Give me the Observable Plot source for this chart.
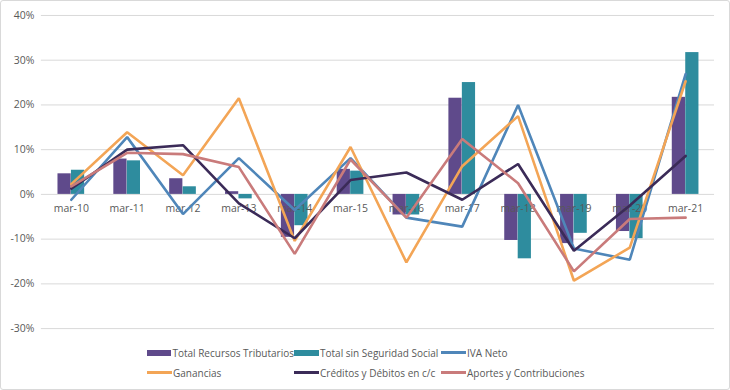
<!DOCTYPE html>
<html><head><meta charset="utf-8">
<script src="https://cdn.jsdelivr.net/npm/d3@7"></script>
<script src="https://cdn.jsdelivr.net/npm/@observablehq/plot@0.6"></script>
<style>
body{margin:0;background:#fff;font-family:"Open Sans",sans-serif;}
#frame{position:absolute;left:0;top:0;width:730px;height:390px;box-sizing:border-box;border:1px solid #d9d9d9;border-radius:3px;overflow:hidden;}
#chart{position:absolute;left:0;top:0;}
#legend{position:absolute;left:146px;top:344px;display:grid;grid-template-columns:147px 147px 160px;row-gap:5px;font-size:10px;color:#595959;}
.item{display:flex;align-items:center;white-space:nowrap;height:15px;}
.sw{display:inline-block;width:25px;margin-right:1px;}
</style></head><body>
<div id="frame"><div id="chart"></div><div id="legend"></div></div>
<script>
const categories = ["mar-10","mar-11","mar-12","mar-13","mar-14","mar-15","mar-16","mar-17","mar-18","mar-19","mar-20","mar-21"];
const totalRecursos = [4.6, 7.9, 3.5, 0.6, -9.6, 5.6, -4.6, 21.5, -10.3, -11.0, -8.3, 21.7];
const totalSinSS = [5.4, 7.5, 1.7, -1.0, -7.0, 5.2, -4.6, 25.0, -14.4, -8.7, -9.9, 31.7];
const ivaNeto = [-1.2, 12.8, -4.4, 8.1, -3.5, 8.1, -5.2, -7.2, 20.0, -12.1, -14.6, 26.9];
const ganancias = [2.3, 13.9, 4.3, 21.5, -10.4, 10.6, -15.2, 6.3, 17.5, -19.3, -11.9, 25.3];
const creditos = [1.3, 10.0, 11.0, -2.0, -9.8, 3.2, 4.9, -1.2, 6.8, -12.6, -2.5, 8.6];
const aportes = [1.8, 9.3, 9.0, 6.1, -13.3, 7.8, -5.2, 12.4, 2.5, -17.2, -5.5, -5.2];
const yTicks = [-30, -20, -10, 0, 10, 20, 30, 40];

const barSeries = [
  {name: "Total Recursos Tributarios", values: totalRecursos, color: "#5f4a8b"},
  {name: "Total sin Seguridad Social", values: totalSinSS, color: "#2e8c9e"}
];
const lineSeries = [
  {name: "IVA Neto", values: ivaNeto, color: "#4f86b9"},
  {name: "Ganancias", values: ganancias, color: "#f3a556"},
  {name: "Créditos y Débitos en c/c", values: creditos, color: "#3b2b58"},
  {name: "Aportes y Contribuciones", values: aportes, color: "#c97b7b"}
];

const W = 730, H = 340, mL = 40, mR = 15;
const bw = (W - mL - mR) / categories.length;
const barW = 13.5;

const marks = [
  Plot.gridY(yTicks, {stroke: "#d9d9d9", strokeOpacity: 1, strokeWidth: 1}),
  Plot.axisY(yTicks, {tickSize: 0, tickPadding: 7, tickFormat: d => d + "%", fontSize: 10.5, fill: "#595959", label: null})
];
barSeries.forEach((s, i) => {
  const data = categories.map((c, j) => ({c, v: s.values[j]}));
  marks.push(Plot.barY(data, {
    x: "c", y: "v", fill: s.color,
    insetLeft: i === 0 ? bw / 2 - barW : bw / 2,
    insetRight: i === 0 ? bw / 2 : bw / 2 - barW
  }));
});
marks.push(Plot.text(categories, {x: d => d, y: () => 0, dy: 14, text: d => d, fill: "#595959", fontSize: 10.5}));
lineSeries.forEach(s => {
  const data = categories.map((c, j) => ({c, v: s.values[j]}));
  marks.push(Plot.line(data, {x: "c", y: "v", stroke: s.color, strokeWidth: 2.6, strokeLinejoin: "miter"}));
});

const chart = Plot.plot({
  width: W, height: H,
  marginLeft: mL, marginRight: mR, marginTop: 14, marginBottom: 12,
  style: {fontFamily: "'Open Sans', sans-serif", background: "transparent"},
  x: {type: "band", domain: categories, padding: 0, axis: null},
  y: {domain: [-30, 40], axis: null},
  marks
});
document.getElementById("chart").appendChild(chart);

const legend = document.getElementById("legend");
const items = [...barSeries.map(s => ({...s, bar: true})), ...lineSeries.map(s => ({...s, bar: false}))];
// order to match reference rows
items.forEach(s => {
  const el = document.createElement("div");
  el.className = "item";
  const sw = document.createElement("span");
  sw.className = "sw";
  sw.style.height = s.bar ? "6px" : "3px";
  sw.style.background = s.color;
  el.appendChild(sw);
  el.appendChild(document.createTextNode(s.name));
  legend.appendChild(el);
});
</script>
</body></html>
